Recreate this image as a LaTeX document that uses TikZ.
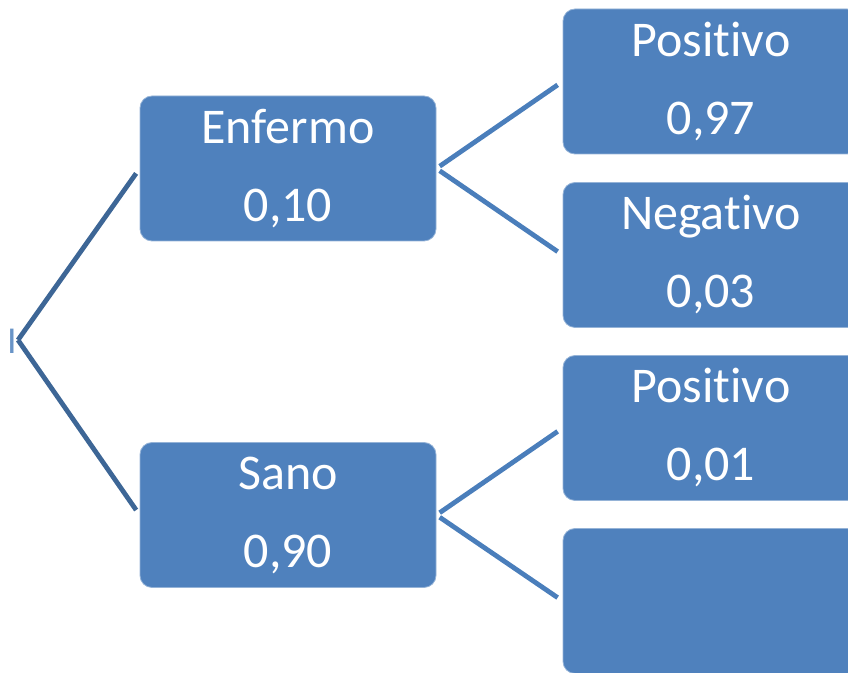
\documentclass[tikz,border=0pt]{standalone}
\usepackage{fontspec}
\setmainfont{Carlito}[Ligatures={NoCommon,NoContextual,NoRare},
    Contextuals=NoAlternate]
\usetikzlibrary{positioning}
\definecolor{boxblue}{HTML}{4F81BD}
\definecolor{branchdark}{HTML}{3D6696}
\definecolor{branchlight}{HTML}{4A7EBB}
\tikzset{
    % Filled rounded box used for every outcome of the tree
    outcome/.style={
        rectangle, rounded corners=6pt, fill=boxblue, draw=boxblue!60!white,
        line width=0.4pt, text=white, align=center, inner sep=0pt,
        minimum width=148pt, minimum height=72.5pt,
        font=\fontsize{25}{39}\selectfont},
%
    % The little mark standing at the root
    root mark/.style={text=boxblue!85!white, inner sep=0pt,
        font=\fontsize{19}{22}\selectfont},
%
    % Branches leaving the root
    root branch/.style={draw=branchdark, line width=2.4pt, shorten >=3pt},
%
    % Branches from the first level to the test results
    branch/.style={draw=branchlight, line width=2.4pt,
        shorten <=2pt, shorten >=3pt}}

\begin{document}
\begin{tikzpicture}[x=0.5pt, y=-0.5pt]
\useasboundingbox (0,0) rectangle (848,673);
\clip (0,0) rectangle (848,673);

% Root of the tree
\path
    node[root mark] (root) at (12,341) {I}
    coordinate (fork) at (18,340);

% First level: condition of the patient
\path
    node[outcome] (enfermo) at (288,168.5) {Enfermo\\0,10}
    node[outcome] (sano) at (288,515) {Sano\\0,90};

\draw[root branch] (fork) -- (enfermo.west);
\draw[root branch] (fork) -- (sano.west);

% Second level: result of the test
\path
    node[outcome] (enfermo pos) at (711,81.5) {Positivo\\0,97}
    node[outcome] (enfermo neg) at (711,255) {Negativo\\0,03}
    node[outcome] (sano pos) at (711,428) {Positivo\\0,01}
    node[outcome] (sano neg) at (711,601) {};

\draw[branch] (enfermo.east) -- (enfermo pos.west);
\draw[branch] (enfermo.east) -- (enfermo neg.west);
\draw[branch] (sano.east) -- (sano pos.west);
\draw[branch] (sano.east) -- (sano neg.west);

\end{tikzpicture}
\end{document}
